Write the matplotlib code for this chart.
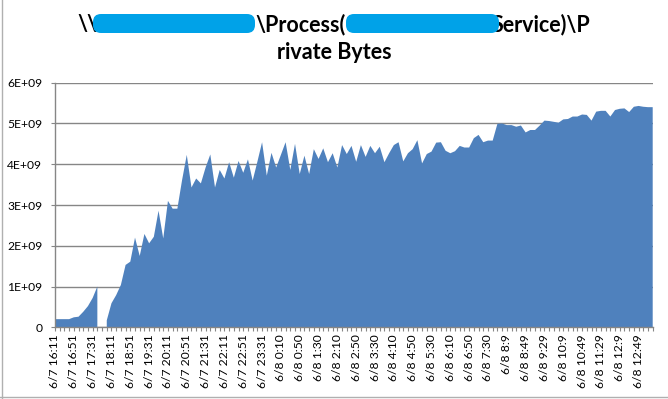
import numpy as np
import matplotlib
matplotlib.use("Agg")
import matplotlib.pyplot as plt
from matplotlib.patches import FancyBboxPatch
from matplotlib.lines import Line2D

# ---- data (bytes, in units of 1e9) ----
values_e9 = [
    0.20, 0.20, 0.20, 0.20, 0.245, 0.26, 0.38, 0.52, 0.72, 1.00,
    np.nan, 0.17, 0.59, 0.79, 1.04, 1.53, 1.61, 2.20, 1.75, 2.29,
    2.06, 2.22, 2.86, 2.18, 3.10, 2.91, 2.91, 3.61, 4.23, 3.43,
    3.65, 3.53, 3.92, 4.24, 3.43, 3.86, 3.65, 4.05, 3.67, 4.08,
    3.79, 4.12, 3.60, 4.06, 4.54, 3.72, 4.28, 3.92, 4.23, 4.54,
    3.86, 4.50, 3.76, 4.21, 3.76, 4.37, 4.13, 4.39, 4.05, 4.27,
    3.92, 4.47, 4.25, 4.45, 4.06, 4.47, 4.18, 4.45, 4.27, 4.43,
    4.05, 4.27, 4.47, 4.54, 4.07, 4.27, 4.37, 4.59, 4.02, 4.25,
    4.31, 4.53, 4.54, 4.33, 4.27, 4.32, 4.45, 4.41, 4.41, 4.64,
    4.72, 4.54, 4.58, 4.58, 4.99, 5.00, 4.96, 4.96, 4.92, 4.95,
    4.78, 4.84, 4.84, 4.95, 5.07, 5.06, 5.04, 5.02, 5.10, 5.11,
    5.17, 5.17, 5.22, 5.21, 5.07, 5.29, 5.31, 5.31, 5.17, 5.33,
    5.36, 5.37, 5.28, 5.41, 5.43, 5.41, 5.40, 5.40,
]
time_labels = [
    "6/7 16:11", "6/7 16:51", "6/7 17:31", "6/7 18:11", "6/7 18:51",
    "6/7 19:31", "6/7 20:11", "6/7 20:51", "6/7 21:31", "6/7 22:11",
    "6/7 22:51", "6/7 23:31", "6/8 0:10", "6/8 0:50", "6/8 1:30",
    "6/8 2:10", "6/8 2:50", "6/8 3:30", "6/8 4:10", "6/8 4:50",
    "6/8 5:30", "6/8 6:10", "6/8 6:50", "6/8 7:30", "6/8 8:9",
    "6/8 8:49", "6/8 9:29", "6/8 10:9", "6/8 10:49", "6/8 11:29",
    "6/8 12:9", "6/8 12:49",
]
label_every = 4
y_ticks_e9 = [0, 1, 2, 3, 4, 5, 6]
y_tick_labels = ["0", "1E+09", "2E+09", "3E+09", "4E+09", "5E+09", "6E+09"]

# ---- figure ----
W, H = 668, 399
fig = plt.figure(figsize=(W / 100, H / 100), dpi=100)
fig.patch.set_facecolor("white")

def fx(px):
    return px / W

def fy(py):
    return 1 - py / H

ax_left, ax_right, ax_top, ax_bot = 55, 652.7, 82.7, 327.3
ax = fig.add_axes([fx(ax_left), fy(ax_bot), fx(ax_right - ax_left), (ax_bot - ax_top) / H])

vals = np.array(values_e9, dtype=float) * 1e9
x = np.arange(len(vals))
ax.fill_between(x, 0, vals, color="#4F81BD", lw=0, zorder=2)

ax.set_xlim(0, len(vals) - 1)
ax.set_ylim(0, 6e9)

grid_c = "#868686"
ax.set_yticks([v * 1e9 for v in y_ticks_e9])
ax.set_yticklabels(y_tick_labels)
ax.yaxis.grid(True, color=grid_c, lw=1.0, zorder=1)
ax.set_axisbelow(True)

ax.set_xticks(x)
xl = []
for i in x:
    if i % label_every == 0 and i // label_every < len(time_labels):
        xl.append(time_labels[i // label_every])
    else:
        xl.append("")
ax.set_xticklabels(xl, rotation=90, va="top", ha="center")

lab_font = "Lato"
for lab in ax.get_xticklabels() + ax.get_yticklabels():
    lab.set_fontfamily(lab_font)
    lab.set_fontsize(8.7)
    lab.set_color("black")

ax.tick_params(axis="x", direction="out", length=3.0, width=0.8, color=grid_c, pad=2)
ax.tick_params(axis="y", direction="out", length=3.2, width=0.8, color=grid_c, pad=6)

for s in ["top", "right"]:
    ax.spines[s].set_visible(False)
for s in ["left", "bottom"]:
    ax.spines[s].set_color(grid_c)
    ax.spines[s].set_linewidth(1.0)
ax.set_facecolor("white")

# ---- title (with redaction blobs) ----
tf = dict(fontfamily="Lato", fontweight="bold", fontsize=15.5, color="black", va="baseline")
fig.text(fx(77), fy(31), "\\\\", ha="left", **tf)
fig.text(fx(255), fy(31), "\\Process(", ha="left", **tf)
fig.text(fx(492), fy(31), "Service)\\P", ha="left", **tf)
fig.text(fx(334), fy(59), "rivate Bytes", ha="center", **tf)

blob_c = "#00A2E8"
for (bx0, bx1) in [(93, 255), (346, 499)]:
    y_top, y_bot = 14, 33
    p = FancyBboxPatch((bx0 / 100, (H - y_bot) / 100), (bx1 - bx0) / 100, (y_bot - y_top) / 100,
                       boxstyle="round,pad=0,rounding_size=0.08",
                       transform=fig.dpi_scale_trans, facecolor=blob_c, edgecolor="none",
                       zorder=5)
    fig.patches.append(p)

# sheet border lines
fig.add_artist(Line2D([fx(1.5), fx(1.5)], [0, 1], color="#b0b0b0", lw=1))
fig.add_artist(Line2D([0, 1], [fy(397), fy(397)], color="#b0b0b0", lw=1))

fig.savefig("out.png", dpi=100, facecolor="white")
